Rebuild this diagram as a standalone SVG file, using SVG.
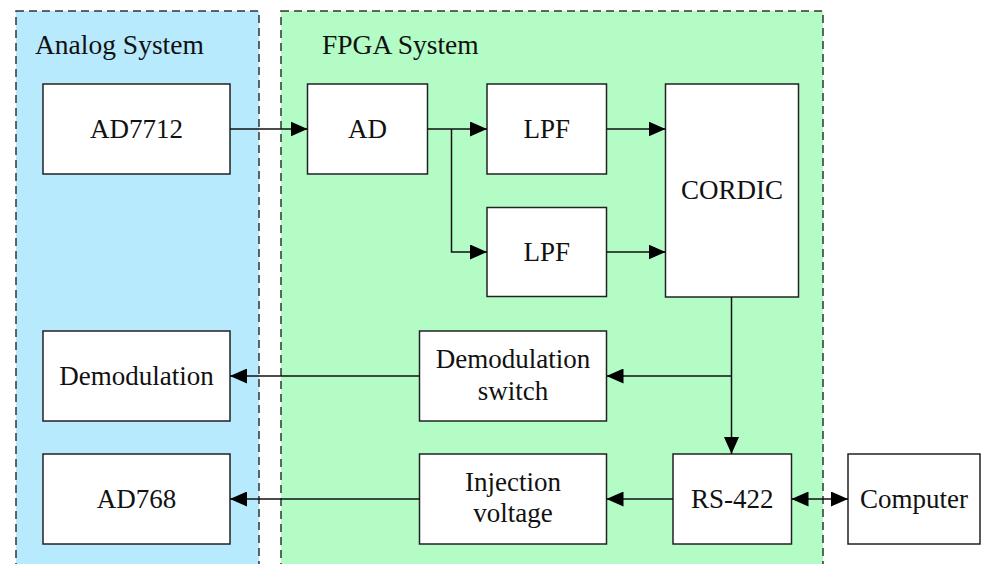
<svg xmlns="http://www.w3.org/2000/svg" width="982" height="564" viewBox="0 0 982 564">
<style>
.region{stroke:#333;stroke-width:1.5;stroke-dasharray:8,5}
.box{fill:#fff;stroke:#222;stroke-width:1.5}
.lbl{font-family:"Liberation Serif","Times New Roman",serif;font-size:27px;fill:#111;text-anchor:middle}
.title{font-family:"Liberation Serif","Times New Roman",serif;font-size:27.5px;fill:#111}
.conn{fill:none;stroke:#111;stroke-width:1.5}
</style>
<defs>
<marker id="arr" markerUnits="userSpaceOnUse" markerWidth="17" markerHeight="15" refX="17" refY="7.5" orient="auto-start-reverse">
<path d="M0,0 L17,7.5 L0,15 z" fill="#000"/>
</marker>
</defs>
<rect width="982" height="564" fill="#fff"/>
<g id="analog-system">
<rect class="region" x="16" y="11" width="243" height="570" fill="#b8eafd"/>
<text class="title" x="35" y="54">Analog System</text>
</g>
<g id="fpga-system">
<rect class="region" x="281" y="11" width="542" height="570" fill="#b3fcc6"/>
<text class="title" x="322" y="54">FPGA System</text>
</g>
<g id="ad7712">
<rect class="box" x="43" y="84" width="187" height="90"/>
<text class="lbl" x="136.5" y="138">AD7712</text>
</g>
<g id="demodulation">
<rect class="box" x="43" y="331" width="187" height="90"/>
<text class="lbl" x="136.5" y="385">Demodulation</text>
</g>
<g id="ad768">
<rect class="box" x="43" y="454" width="187" height="90"/>
<text class="lbl" x="136.5" y="508">AD768</text>
</g>
<g id="ad">
<rect class="box" x="307.5" y="84" width="120" height="90"/>
<text class="lbl" x="367.5" y="138">AD</text>
</g>
<g id="lpf1">
<rect class="box" x="487" y="84" width="119.5" height="90"/>
<text class="lbl" x="546.75" y="138">LPF</text>
</g>
<g id="lpf2">
<rect class="box" x="487" y="207.5" width="119.5" height="89"/>
<text class="lbl" x="546.75" y="261">LPF</text>
</g>
<g id="cordic">
<rect class="box" x="665.5" y="84" width="133" height="213"/>
<text class="lbl" x="732" y="199">CORDIC</text>
</g>
<g id="demodulation-switch">
<rect class="box" x="419.5" y="331" width="187" height="90"/>
<text class="lbl" x="513" y="368">Demodulation</text>
<text class="lbl" x="513" y="400">switch</text>
</g>
<g id="injection-voltage">
<rect class="box" x="419.5" y="454" width="187" height="90"/>
<text class="lbl" x="513" y="491">Injection</text>
<text class="lbl" x="513" y="522">voltage</text>
</g>
<g id="rs422">
<rect class="box" x="673" y="454" width="118.5" height="90"/>
<text class="lbl" x="732.25" y="508">RS-422</text>
</g>
<g id="computer">
<rect class="box" x="848" y="454" width="132" height="90"/>
<text class="lbl" x="914" y="508">Computer</text>
</g>
<g id="connectors">
<path class="conn" d="M230,129 H307.5" marker-end="url(#arr)"/>
<path class="conn" d="M427.5,129 H487" marker-end="url(#arr)"/>
<path class="conn" d="M451.5,129 V252 H487" marker-end="url(#arr)"/>
<path class="conn" d="M606.5,129 H665.5" marker-end="url(#arr)"/>
<path class="conn" d="M606.5,252 H665.5" marker-end="url(#arr)"/>
<path class="conn" d="M731.5,297 V454" marker-end="url(#arr)"/>
<path class="conn" d="M731.5,376 H606.5" marker-end="url(#arr)"/>
<path class="conn" d="M419.5,376 H230" marker-end="url(#arr)"/>
<path class="conn" d="M673,499 H606.5" marker-end="url(#arr)"/>
<path class="conn" d="M419.5,499 H230" marker-end="url(#arr)"/>
<path class="conn" d="M791.5,499 H848" marker-start="url(#arr)" marker-end="url(#arr)"/>
</g>
</svg>
